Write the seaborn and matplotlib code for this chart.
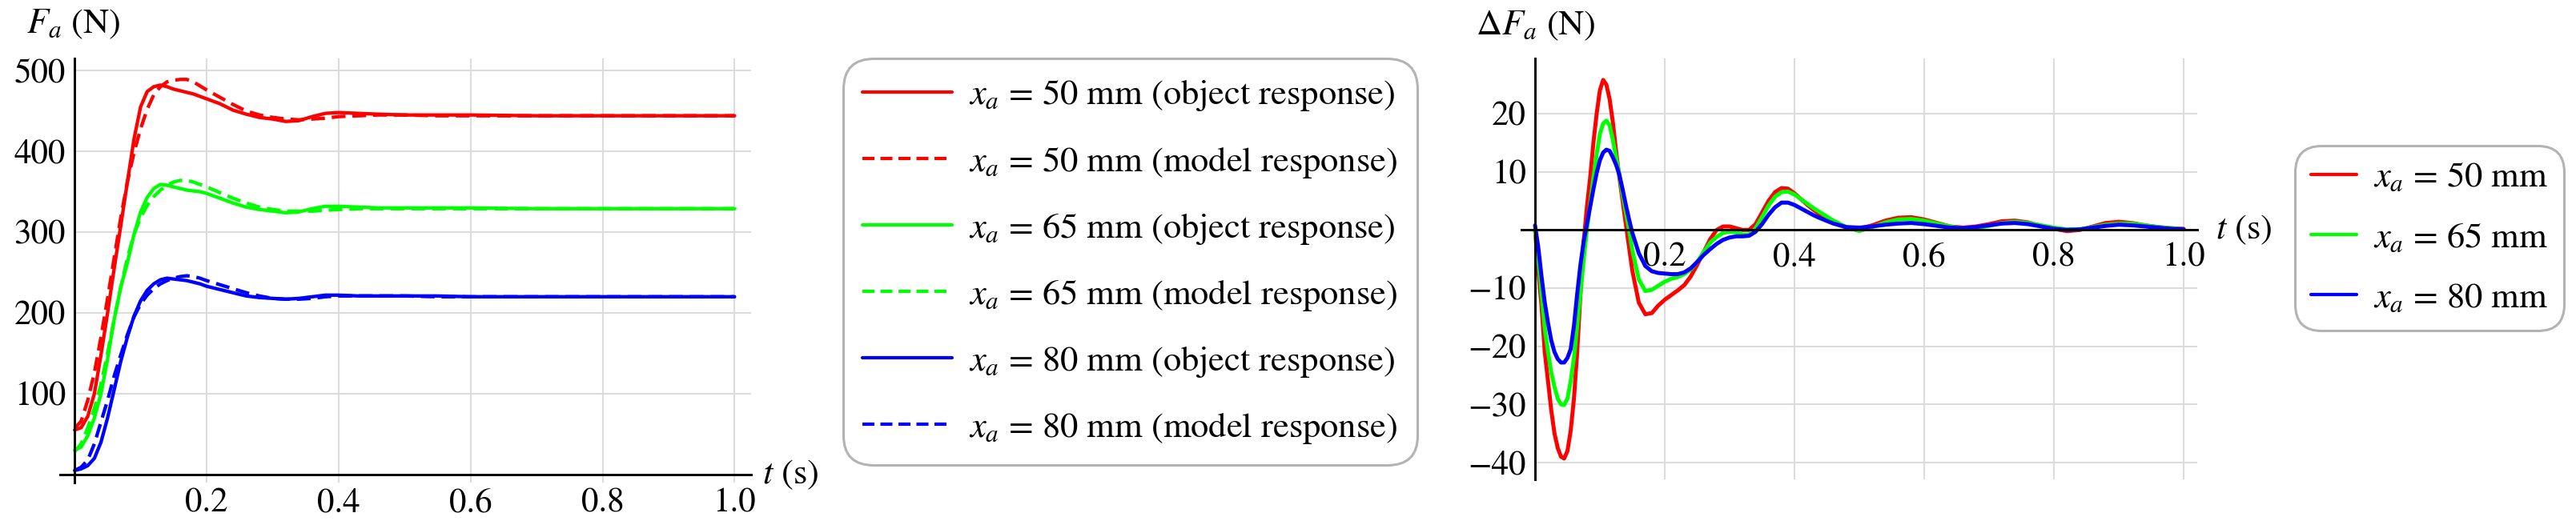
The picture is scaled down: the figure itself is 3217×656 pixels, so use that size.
import matplotlib
matplotlib.use("Agg")
import matplotlib.pyplot as plt
from matplotlib.lines import Line2D
from matplotlib.ticker import MultipleLocator
import pandas as pd
import seaborn as sns

# ---------------- data ----------------
t_force = [0.00, 0.01, 0.02, 0.03, 0.04, 0.05, 0.06, 0.07, 0.08, 0.09,
           0.10, 0.11, 0.12, 0.13, 0.14, 0.15, 0.16, 0.17, 0.18, 0.19,
           0.20, 0.22, 0.24, 0.26, 0.28, 0.30, 0.32, 0.34, 0.36, 0.38,
           0.40, 0.43, 0.46, 0.50, 0.55, 0.60, 0.70, 0.80, 0.90, 1.00]

obj50 = [55, 58, 72, 100, 148, 200, 255, 308, 362, 415,
         455, 474, 480, 482, 480, 477, 475, 473, 471, 468,
         465, 459, 451, 446, 442, 440, 437, 438, 443, 447,
         448, 447, 446, 445, 445, 445, 444, 444, 444, 444]
mod50 = [57, 66, 92, 126, 170, 218, 268, 318, 362, 398,
         428, 452, 470, 480, 486, 488, 489, 489, 486, 481,
         476, 467, 458, 450, 445, 442, 440, 439, 440, 441,
         443, 444, 445, 445, 444, 444, 444, 444, 444, 444]
obj65 = [30, 34, 48, 70, 100, 143, 192, 232, 262, 297,
         325, 343, 354, 359, 358, 356, 354, 352, 351, 350,
         348, 342, 336, 331, 328, 326, 324, 325, 329, 332,
         332, 331, 330, 330, 330, 330, 329, 329, 329, 329]
mod65 = [28, 38, 58, 82, 112, 150, 192, 232, 268, 297,
         318, 333, 344, 352, 358, 362, 364, 364, 362, 359,
         356, 349, 342, 336, 331, 328, 326, 326, 326, 327,
         328, 329, 329, 329, 329, 329, 329, 329, 329, 329]
obj80 = [5, 7, 11, 20, 40, 70, 105, 140, 170, 196,
         215, 228, 236, 241, 243, 242, 241, 240, 238, 236,
         233, 229, 225, 221, 219, 218, 217, 218, 220, 222,
         222, 221, 221, 221, 221, 220, 220, 220, 220, 220]
mod80 = [5, 9, 18, 38, 65, 92, 122, 148, 173, 195,
         211, 222, 230, 236, 240, 243, 245, 246, 245, 243,
         240, 235, 230, 225, 221, 218, 217, 217, 218, 220,
         221, 221, 221, 221, 220, 220, 220, 220, 220, 220]

t_diff = [0.000, 0.005, 0.010, 0.015, 0.020, 0.025, 0.030, 0.035, 0.040, 0.045,
          0.050, 0.055, 0.060, 0.065, 0.070, 0.075, 0.080, 0.085, 0.090, 0.095,
          0.100, 0.105, 0.110, 0.115, 0.120, 0.125, 0.130, 0.135, 0.140, 0.145,
          0.150, 0.16, 0.17, 0.18, 0.19, 0.20, 0.21, 0.22, 0.23, 0.24,
          0.25, 0.26, 0.27, 0.28, 0.29, 0.30, 0.31, 0.32, 0.33, 0.34,
          0.35, 0.36, 0.37, 0.38, 0.39, 0.40, 0.41, 0.42, 0.43, 0.44,
          0.46, 0.48, 0.50, 0.52, 0.54, 0.56, 0.58, 0.60, 0.62, 0.64,
          0.66, 0.68, 0.70, 0.72, 0.74, 0.76, 0.78, 0.80, 0.82, 0.84,
          0.86, 0.88, 0.90, 0.92, 0.94, 0.96, 0.98, 1.00]

diff50 = [0, -7, -13, -21, -26, -31, -35, -37.5, -39, -39.3,
          -38, -34.5, -29, -21, -11, -2, 4, 9, 15, 20,
          24, 25.8, 25, 22.5, 18.5, 13.5, 9, 5, 1, -3,
          -7, -12.5, -14.5, -14.3, -13, -12, -11.2, -10.4, -9.5, -8,
          -6, -3.8, -1.6, 0, 0.6, 0.6, 0.3, 0, 0, 1,
          3, 5, 6.5, 7.2, 7.1, 6.3, 5.3, 4.3, 3.4, 2.6,
          1.2, 0.4, 0.2, 0.8, 1.6, 2.1, 2.2, 1.8, 1.2, 0.6,
          0.4, 0.6, 1.0, 1.5, 1.6, 1.3, 0.7, 0.2, -0.2, 0,
          0.6, 1.2, 1.4, 1.2, 0.8, 0.5, 0.3, 0.2]
diff65 = [0, -5, -11, -17, -21, -24.5, -27, -29, -30, -30.1,
          -29, -26, -22, -16.5, -11, -5, 0, 4.5, 9, 13,
          16.5, 18.3, 18.8, 18, 15.5, 12.5, 9.5, 6, 3, 0,
          -3.5, -8.5, -10.5, -10.3, -9.6, -8.9, -8.4, -8.1, -7.6, -6.8,
          -5.5, -3.8, -2.2, -1.2, -0.5, -0.3, -0.4, -0.8, -0.8, 0.3,
          2.2, 4.2, 5.7, 6.5, 6.6, 6.1, 5.3, 4.5, 3.7, 3.0,
          1.6, 0.5, -0.2, 0.5, 1.3, 1.8, 1.9, 1.6, 1.1, 0.6,
          0.2, 0.3, 0.7, 1.2, 1.4, 1.2, 0.8, 0.4, 0.1, 0.1,
          0.5, 0.9, 1.1, 1.1, 0.8, 0.5, 0.3, 0.1]
diff80 = [0.8, -3, -8, -12.5, -16, -19, -21, -22.2, -22.8, -22.8,
          -22, -20.5, -16.5, -11, -6, -2, 1, 4, 7, 9.8,
          12, 13.3, 13.8, 13.6, 12.5, 11.2, 9.5, 7, 4.3, 1.8,
          -0.5, -4, -6.2, -7.1, -7.4, -7.5, -7.6, -7.6, -7.3, -6.6,
          -5.5, -4.3, -3.3, -2.4, -1.7, -1.3, -1.1, -1.1, -1.0, -0.3,
          1.0, 2.6, 3.9, 4.7, 4.7, 4.3, 3.7, 3.1, 2.5, 2.0,
          1.1, 0.5, 0.4, 0.6, 0.9, 1.1, 1.2, 1.0, 0.7, 0.4,
          0.3, 0.5, 0.8, 1.1, 1.2, 1.0, 0.6, 0.2, 0.0, 0.1,
          0.4, 0.7, 0.9, 0.8, 0.6, 0.4, 0.2, 0.1]

sizes = ["50", "65", "80"]
colors = {"50": "#ff0000", "65": "#00ff00", "80": "#0000ff"}

t_ticks = [0.2, 0.4, 0.6, 0.8, 1.0]
t_ticklabels = ["0.2", "0.4", "0.6", "0.8", "1.0"]
force_ticks = [100, 200, 300, 400, 500]
force_ticklabels = ["100", "200", "300", "400", "500"]
diff_ticks = [-40, -30, -20, -10, 10, 20]
diff_ticklabels = ["\u221240", "\u221230", "\u221220", "\u221210", "10", "20"]

# ---------------- long-form tables ----------------
rows = []
for size, obj, mod in zip(sizes, [obj50, obj65, obj80], [mod50, mod65, mod80]):
    for t, v in zip(t_force, obj):
        rows.append((t, v, size, "object"))
    for t, v in zip(t_force, mod):
        rows.append((t, v, size, "model"))
df_force = pd.DataFrame(rows, columns=["t", "F", "size", "kind"])

rows = []
for size, d in zip(sizes, [diff50, diff65, diff80]):
    for t, v in zip(t_diff, d):
        rows.append((t, v, size))
df_diff = pd.DataFrame(rows, columns=["t", "dF", "size"])

# ---------------- style ----------------
sns.set_style("white")
plt.rcParams["font.family"] = ["STIXGeneral", "DejaVu Serif"]
plt.rcParams["mathtext.fontset"] = "stix"
plt.rcParams["font.size"] = 32
plt.rcParams["text.color"] = "black"
plt.rcParams["xtick.color"] = "black"
plt.rcParams["ytick.color"] = "black"

W, H = 3217, 656
fig = plt.figure(figsize=(W / 100, H / 100), dpi=100)
ax1 = fig.add_axes([75 / W, 53 / H, 863 / W, 530 / H])
ax2 = fig.add_axes([1900 / W, 57 / H, 844 / W, 526 / H])

grid_c = "#dcdcdc"
tick_fs = 31
text_fs = 32


def style_axis(ax, xlim, ylim, yticks, yticklabels, xminor, yminor, xpad):
    ax.set_xlim(*xlim)
    ax.set_ylim(*ylim)
    ax.set_axisbelow(True)
    ax.vlines(t_ticks, ylim[0], ylim[1], colors=grid_c, lw=1.5, zorder=0)
    ax.hlines(yticks, 0, xlim[1], colors=grid_c, lw=1.5, zorder=0)
    for s in ["top", "right"]:
        ax.spines[s].set_visible(False)
    for s in ["left", "bottom"]:
        ax.spines[s].set_position(("data", 0))
        ax.spines[s].set_linewidth(2.1)
        ax.spines[s].set_color("black")
    ax.set_xticks(t_ticks)
    ax.set_xticklabels(t_ticklabels)
    ax.set_yticks(yticks)
    ax.set_yticklabels(yticklabels)
    ax.xaxis.set_minor_locator(MultipleLocator(xminor))
    ax.yaxis.set_minor_locator(MultipleLocator(yminor))
    ax.tick_params(which="major", direction="in", length=7.5, width=1.7,
                   labelsize=tick_fs, colors="black")
    ax.tick_params(which="minor", direction="in", length=4.5, width=1.5,
                   colors="black")
    ax.tick_params(axis="x", which="major", pad=xpad)
    ax.tick_params(axis="y", which="major", pad=8)
    ax.set_xlabel("")
    ax.set_ylabel("")


# ---------------- left panel ----------------
sns.lineplot(data=df_force, x="t", y="F", hue="size", style="kind",
             palette=colors, dashes={"object": "", "model": (4, 2)},
             linewidth=3.1, estimator=None, sort=False, legend=False, ax=ax1)
style_axis(ax1, (-0.022, 1.025), (-10, 515), force_ticks, force_ticklabels,
           0.05, 20, 12)
ax1.text(1.042, 0, r"$t$ (s)", ha="left", va="center", fontsize=text_fs)
fig.text(33 / W, 1 - 30 / H, r"$F_a$ (N)", ha="left", va="center",
         fontsize=text_fs)

# ---------------- right panel ----------------
sns.lineplot(data=df_diff, x="t", y="dF", hue="size", palette=colors,
             linewidth=3.6, estimator=None, sort=False, legend=False, ax=ax2)
style_axis(ax2, (-0.021, 1.021), (-42.9, 29.5), diff_ticks, diff_ticklabels,
           0.05, 2, 11)
ax2.text(1.049, 0, r"$t$ (s)", ha="left", va="center", fontsize=text_fs)
fig.text(1843 / W, 1 - 32 / H, r"$\Delta F_a$ (N)", ha="left", va="center",
         fontsize=text_fs)

# ---------------- legends ----------------
h_left, l_left = [], []
for s in sizes:
    h_left.append(Line2D([], [], color=colors[s], lw=3.0))
    l_left.append(r"$x_a$ = %s mm (object response)" % s)
    h_left.append(Line2D([], [], color=colors[s], lw=3.0, dashes=(3.6, 1.8)))
    l_left.append(r"$x_a$ = %s mm (model response)" % s)

leg1 = fig.legend(h_left, l_left, loc="upper left",
                  bbox_to_anchor=(1053 / W, 1 - 73 / H), fontsize=text_fs,
                  frameon=True, borderaxespad=0, borderpad=0.55,
                  handlelength=2.52, handletextpad=0.47, labelspacing=0.88)
leg1.legendPatch.set_boxstyle("round,pad=0,rounding_size=0.85")
leg1.get_frame().set_edgecolor("#a0a0a0")
leg1.get_frame().set_linewidth(2.2)

h_right = [Line2D([], [], color=colors[s], lw=3.0) for s in sizes]
l_right = [r"$x_a$ = %s mm" % s for s in sizes]
leg2 = fig.legend(h_right, l_right, loc="upper left",
                  bbox_to_anchor=(2866 / W, 1 - 182 / H), fontsize=text_fs,
                  frameon=True, borderaxespad=0, borderpad=0.45,
                  handlelength=1.28, handletextpad=0.47, labelspacing=0.79)
leg2.legendPatch.set_boxstyle("round,pad=0,rounding_size=0.75")
leg2.get_frame().set_edgecolor("#a0a0a0")
leg2.get_frame().set_linewidth(2.2)

fig.savefig("out.png", dpi=100)
